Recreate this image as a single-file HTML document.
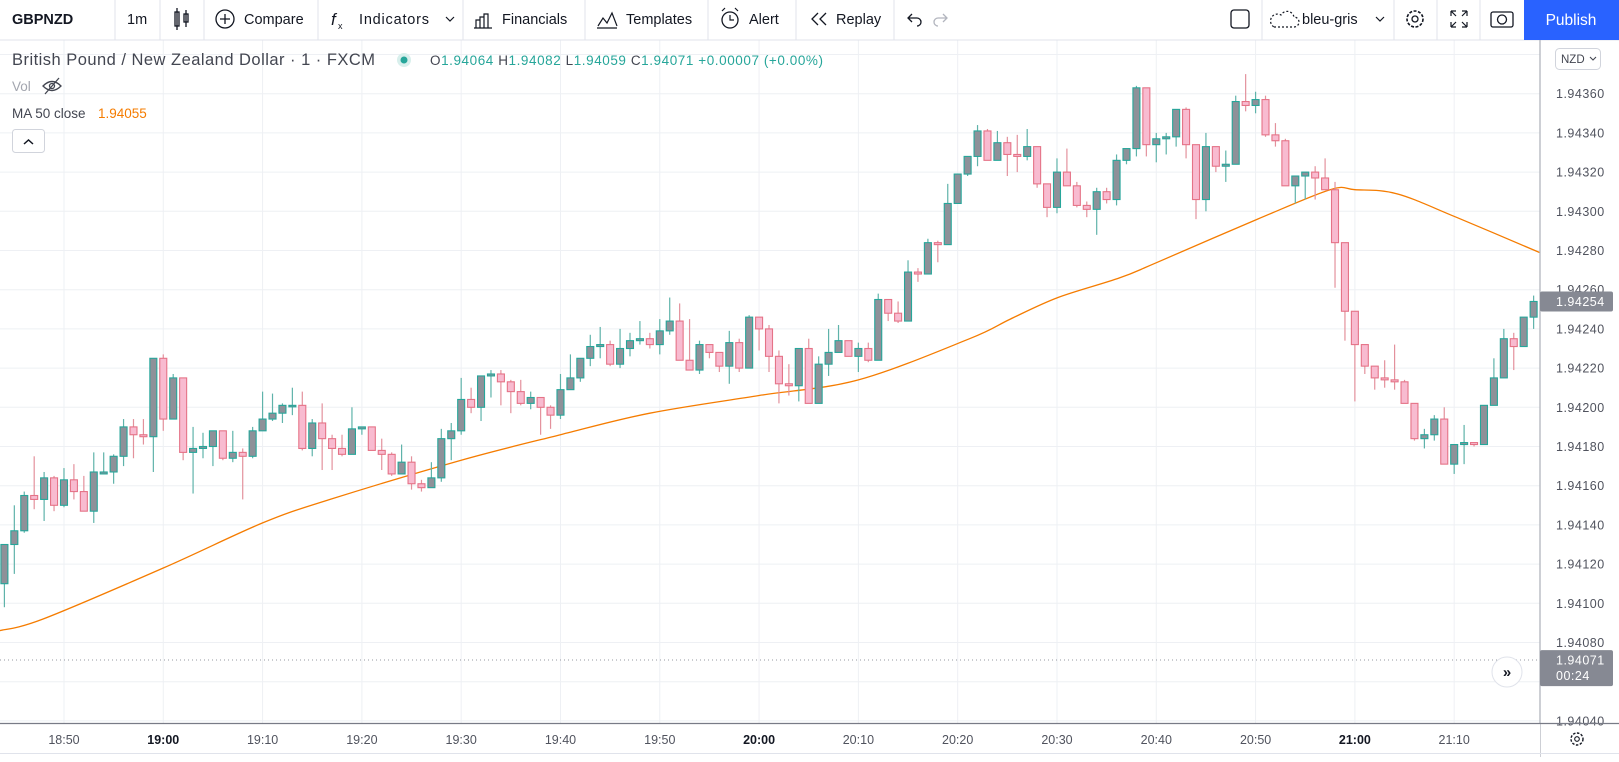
<!DOCTYPE html>
<html><head><meta charset="utf-8"><title>GBPNZD chart</title>
<style>
html,body{margin:0;padding:0;background:#fff;}
body{width:1619px;height:757px;overflow:hidden;font-family:"Liberation Sans",sans-serif;}
svg text{font-family:"Liberation Sans",sans-serif;}
</style></head>
<body>
<svg id="chart" width="1619" height="757" viewBox="0 0 1619 757" xmlns="http://www.w3.org/2000/svg">
  <rect x="0" y="0" width="1619" height="757" fill="#ffffff"/>
  <g id="grid"></g>
  <g id="ma"></g>
  <g id="candles"></g>
  <line x1="0" x2="1540" y1="660" y2="660" stroke="#9598a1" stroke-width="1" stroke-dasharray="1,3"/>

  <!-- toolbar -->
  <g>
    <rect x="0" y="0" width="1619" height="40" fill="#fff"/>
    <line x1="0" x2="1619" y1="40" y2="40" stroke="#e0e3eb"/>
    <g stroke="#e0e3eb">
      <line x1="115" x2="115" y1="0" y2="40"/><line x1="160" x2="160" y1="0" y2="40"/><line x1="204" x2="204" y1="0" y2="40"/>
      <line x1="318" x2="318" y1="0" y2="40"/><line x1="463" x2="463" y1="0" y2="40"/><line x1="585" x2="585" y1="0" y2="40"/>
      <line x1="708" x2="708" y1="0" y2="40"/><line x1="796" x2="796" y1="0" y2="40"/><line x1="894" x2="894" y1="0" y2="40"/>
      <line x1="1262" x2="1262" y1="0" y2="40"/><line x1="1394" x2="1394" y1="0" y2="40"/><line x1="1437" x2="1437" y1="0" y2="40"/><line x1="1480" x2="1480" y1="0" y2="40"/>
    </g>
    <text x="12" y="24" font-size="14.5" font-weight="bold" fill="#131722">GBPNZD</text>
    <text x="127" y="24" font-size="14.5" fill="#131722">1m</text>
    <g stroke="#131722" fill="none" stroke-width="1.3">
      <rect x="175" y="12" width="4" height="14"/><line x1="177" x2="177" y1="8" y2="30"/>
      <rect x="184" y="14" width="4" height="8"/><line x1="186" x2="186" y1="10" y2="27"/>
    </g>
    <g>
      <circle cx="225" cy="19" r="9" fill="none" stroke="#131722" stroke-width="1.3"/>
      <path d="M220 19h10M225 14v10" stroke="#131722" stroke-width="1.3"/>
      <text x="244" y="24" font-size="14.5" fill="#131722">Compare</text>
    </g>
    <g>
      <text x="331" y="25" font-size="17" font-style="italic" fill="#131722">f</text>
      <text x="338" y="29" font-size="9" fill="#131722">x</text>
      <text x="359" y="24" font-size="14.5" fill="#131722" textLength="70">Indicators</text>
      <path d="M446 17l4 4 4-4" fill="none" stroke="#131722" stroke-width="1.2"/>
    </g>
    <g>
      <path d="M474 28h18M476 28v-8h4v8M480 28v-11h4v11M484 28v-14h4v14" fill="none" stroke="#131722" stroke-width="1.2"/>
      <text x="502" y="24" font-size="14.5" fill="#131722">Financials</text>
    </g>
    <g>
      <path d="M597 28h20M598 26l5-8 4 5 5-10 5 13" fill="none" stroke="#131722" stroke-width="1.2"/>
      <text x="626" y="24" font-size="14.5" fill="#131722">Templates</text>
    </g>
    <g>
      <circle cx="730" cy="20" r="8" fill="none" stroke="#131722" stroke-width="1.3"/>
      <path d="M722 11l3-3M738 11l-3-3M730 15v5h4" fill="none" stroke="#131722" stroke-width="1.2"/>
      <text x="749" y="24" font-size="14.5" fill="#131722">Alert</text>
    </g>
    <g>
      <path d="M818 13l-6 6 6 6M826 13l-6 6 6 6" fill="none" stroke="#131722" stroke-width="1.3"/>
      <text x="836" y="24" font-size="14.5" fill="#131722">Replay</text>
    </g>
    <path d="M912 14l-4 4 4 4M908 18h9a4 4 0 0 1 0 8" fill="none" stroke="#131722" stroke-width="1.3"/>
    <path d="M943 14l4 4-4 4M947 18h-9a4 4 0 0 0 0 8" fill="none" stroke="#b2b5be" stroke-width="1.3"/>
    <rect x="1231" y="10" width="18" height="18" rx="3" fill="none" stroke="#131722" stroke-width="1.3"/>
    <g>
      <path d="M1274 27h20a5 5 0 0 0 0-10a7 7 0 0 0-13-2a6 6 0 0 0-7 12z" fill="none" stroke="#131722" stroke-width="1.2" stroke-dasharray="2,2"/>
      <text x="1302" y="24" font-size="14.5" fill="#131722">bleu-gris</text>
      <path d="M1376 17l4 4 4-4" fill="none" stroke="#131722" stroke-width="1.2"/>
    </g>
    <g>
      <circle cx="1415" cy="19" r="8" fill="none" stroke="#131722" stroke-width="1.6" stroke-dasharray="3,1.5"/>
      <circle cx="1415" cy="19" r="3" fill="none" stroke="#131722" stroke-width="1.3"/>
    </g>
    <path d="M1451 11h5M1451 11v5M1451 11l5 5M1467 11h-5M1467 11v5M1467 11l-5 5M1451 27h5M1451 27v-5M1451 27l5-5M1467 27h-5M1467 27v-5M1467 27l-5-5" fill="none" stroke="#131722" stroke-width="1.2"/>
    <g>
      <rect x="1491" y="12" width="22" height="15" rx="2" fill="none" stroke="#131722" stroke-width="1.3"/>
      <circle cx="1502" cy="19.5" r="4.5" fill="none" stroke="#131722" stroke-width="1.3"/>
    </g>
    <g>
      <rect x="1524" y="0" width="95" height="40" fill="#2962ff"/>
      <text x="1571" y="25" font-size="15.5" fill="#fff" text-anchor="middle">Publish</text>
    </g>
  </g>

  <!-- legend -->
  <g>
    <text x="12" y="65" font-size="16.5" fill="#434651" textLength="363" lengthAdjust="spacing">British Pound / New Zealand Dollar · 1 · FXCM</text>
    <circle cx="404" cy="60" r="7" fill="#d8efec"/>
    <circle cx="404" cy="60" r="3.5" fill="#26a69a"/>
    <text x="430" y="65" font-size="13.5" fill="#26a69a" textLength="393" lengthAdjust="spacing"><tspan fill="#434651">O</tspan>1.94064 <tspan fill="#434651">H</tspan>1.94082 <tspan fill="#434651">L</tspan>1.94059 <tspan fill="#434651">C</tspan>1.94071 +0.00007 (+0.00%)</text>
    <text x="12" y="91" font-size="13.5" fill="#a3a6af">Vol</text>
    <g stroke="#434651" fill="none" stroke-width="1.3">
      <path d="M43 86q9-9 18 0q-9 9-18 0z"/><circle cx="52" cy="86" r="2.5"/><line x1="45" y1="94" x2="59" y2="78"/>
    </g>
    <text x="12" y="118" font-size="13.5" fill="#434651">MA 50 close</text>
    <text x="98" y="118" font-size="13.5" fill="#f57c00">1.94055</text>
    <g>
      <rect x="12.5" y="129.5" width="32" height="23" rx="3" fill="#fff" stroke="#d1d4dc"/>
      <path d="M24 144l4.5-4 4.5 4" fill="none" stroke="#131722" stroke-width="1.5"/>
    </g>
  </g>

  <!-- price axis -->
  <g id="paxis">
    <rect x="1540" y="41" width="79" height="682" fill="#fff"/>
    <line x1="1540" x2="1540" y1="40" y2="757" stroke="#b2b5be" stroke-width="1.3"/>
    <g>
      <rect x="1555.5" y="48.5" width="45" height="21" rx="4" fill="#fff" stroke="#d1d4dc"/>
      <text x="1561" y="63" font-size="11.5" fill="#434651">NZD</text>
      <path d="M1590 57l3 3 3-3" fill="none" stroke="#434651" stroke-width="1.1"/>
    </g>
  </g>
  <!-- time axis -->
  <g id="taxis">
    <rect x="0" y="723" width="1540" height="34" fill="#fff"/>
    <line x1="0" x2="1619" y1="723.5" y2="723.5" stroke="#787b86" stroke-width="1.3"/>
    <line x1="0" x2="1619" y1="753.5" y2="753.5" stroke="#e0e3eb"/>
  </g>
  <g>
    <circle cx="1507" cy="672" r="15" fill="#fff" stroke="#e0e3eb"/>
    <text x="1507" y="677" font-size="15" font-weight="bold" fill="#131722" text-anchor="middle">»</text>
  </g>
  <g>
    <circle cx="1577" cy="739" r="6" fill="none" stroke="#131722" stroke-width="1.4" stroke-dasharray="2.5,1.5"/>
    <circle cx="1577" cy="739" r="2.3" fill="none" stroke="#131722" stroke-width="1.1"/>
  </g>
</svg>
<script>
var opens=[194110,194130,194137,194155,194153,194164,194150,194163,194157,194147,194166,194167,194175,194190,194186,194185,194225,194194,194215,194177,194179,194180,194188,194174,194177,194175,194188,194194,194197,194201,194201,194179,194192,194184,194179,194176,194189,194190,194178,194176,194166,194172,194161,194159,194164,194184,194188,194204,194200,194216,194217,194213,194208,194202,194205,194200,194196,194209,194215,194225,194231,194232,194222,194230,194234,194235,194232,194239,194244,194224,194219,194232,194228,194221,194233,194220,194246,194240,194226,194212,194211,194230,194202,194222,194228,194234,194226,194230,194224,194255,194248,194244,194269,194268,194284,194283,194304,194319,194328,194341,194326,194335,194329,194328,194333,194314,194302,194320,194313,194303,194301,194310,194306,194326,194332,194363,194334,194337,194338,194352,194334,194306,194333,194323,194324,194356,194354,194357,194339,194336,194313,194318,194320,194317,194311,194284,194249,194232,194221,194215,194214,194213,194202,194184,194186,194194,194171,194181,194182,194181,194201,194215,194235,194231,194246];
var highs=[194130,194150,194157,194175,194167,194165,194169,194171,194165,194177,194177,194176,194194,194194,194194,194225,194227,194217,194215,194190,194187,194188,194188,194188,194179,194190,194208,194207,194202,194210,194208,194194,194202,194186,194186,194200,194190,194190,194184,194177,194181,194175,194163,194172,194189,194192,194215,194210,194216,194219,194219,194214,194214,194208,194205,194201,194217,194227,194225,194237,194241,194234,194240,194238,194244,194238,194245,194256,194253,194245,194234,194232,194228,194239,194235,194247,194246,194242,194229,194222,194230,194235,194226,194240,194242,194234,194233,194233,194258,194255,194254,194275,194271,194286,194285,194314,194319,194328,194344,194342,194341,194338,194339,194342,194333,194314,194327,194332,194315,194305,194312,194312,194329,194332,194364,194363,194340,194340,194352,194353,194334,194340,194333,194331,194359,194370,194361,194359,194345,194337,194318,194320,194323,194327,194315,194284,194249,194232,194221,194224,194232,194214,194202,194189,194196,194200,194181,194191,194182,194201,194225,194240,194238,194246,194257];
var lows=[194098,194115,194136,194148,194142,194147,194149,194153,194147,194141,194166,194161,194170,194174,194181,194167,194188,194194,194173,194156,194174,194170,194173,194172,194153,194174,194188,194193,194192,194196,194178,194175,194168,194168,194175,194176,194186,194178,194168,194165,194166,194158,194157,194159,194162,194173,194186,194197,194193,194205,194201,194197,194201,194199,194186,194189,194194,194209,194213,194221,194225,194221,194220,194226,194232,194230,194227,194237,194224,194219,194217,194225,194218,194212,194218,194220,194229,194218,194202,194206,194203,194202,194202,194216,194228,194226,194218,194223,194224,194244,194243,194244,194264,194268,194274,194283,194304,194318,194323,194326,194326,194318,194320,194326,194312,194297,194299,194313,194302,194297,194288,194304,194303,194324,194328,194328,194325,194329,194333,194327,194296,194300,194320,194315,194324,194351,194350,194338,194333,194313,194304,194306,194306,194311,194261,194234,194203,194217,194209,194210,194209,194202,194183,194179,194183,194171,194166,194171,194180,194181,194201,194215,194219,194231,194240];
var closes=[194130,194137,194155,194153,194164,194150,194163,194157,194147,194167,194167,194175,194190,194186,194185,194225,194194,194215,194177,194179,194180,194188,194174,194177,194175,194188,194194,194197,194201,194201,194179,194192,194184,194179,194176,194189,194190,194178,194176,194166,194172,194161,194159,194164,194184,194188,194204,194200,194216,194217,194213,194208,194202,194205,194200,194196,194209,194215,194225,194231,194232,194222,194230,194234,194235,194232,194239,194244,194224,194219,194232,194228,194221,194233,194220,194246,194240,194226,194212,194211,194230,194202,194222,194228,194234,194226,194230,194224,194255,194248,194244,194269,194268,194284,194283,194304,194319,194328,194341,194326,194335,194329,194328,194333,194314,194302,194320,194313,194303,194301,194310,194306,194326,194332,194363,194334,194337,194338,194352,194334,194306,194333,194323,194324,194356,194354,194357,194339,194336,194313,194318,194320,194317,194311,194284,194249,194232,194221,194215,194214,194213,194202,194184,194186,194194,194171,194181,194182,194181,194201,194215,194235,194231,194246,194254];
var maIndex=[-0.5,3.9,16,26,32.8,46,56,65,76,86,97.2,101.3,106.1,112.3,116.1,126.2,133.5,136,140.2,146.2,154.6];
var maValues=[194086,194092,194118,194141,194153,194173,194186,194197,194206,194214,194235,194245,194256,194266,194274,194296,194311,194311,194309,194297,194279];
var priceTicks=[194380,194360,194340,194320,194300,194280,194260,194240,194220,194200,194180,194160,194140,194120,194100,194080,194060,194040];
var timeLabels=["18:50","19:00","19:10","19:20","19:30","19:40","19:50","20:00","20:10","20:20","20:30","20:40","20:50","21:00","21:10"];
var timeLabelIndex=[6,16,26,36,46,56,66,76,86,96,106,116,126,136,146];
var lastPrice=194254, livePrice=194071;

var NS="http://www.w3.org/2000/svg";
function xScale(i){return 4.4+9.93*i;}
function yScale(v){return 407.3-(v-194200)*1.96;}
function mk(tag,attrs,parent){var e=document.createElementNS(NS,tag);for(var k in attrs)e.setAttribute(k,attrs[k]);parent.appendChild(e);return e;}
function fmt(v){return (v/100000).toFixed(5);}

var grid=document.getElementById('grid');
priceTicks.forEach(function(p){
  var y=yScale(p); if(y<42||y>722)return;
  var l=mk('line',{x1:0,x2:1540,y1:y,y2:y,stroke:'#eef0f4','stroke-width':1},grid);
  
  
});
timeLabelIndex.forEach(function(i){
  var x=xScale(i);
  var l=mk('line',{x1:x,x2:x,y1:40,y2:723,stroke:'#eef0f4','stroke-width':1},grid);
  
  
});

var ma=document.getElementById('ma');
var P=maIndex.map(function(i,j){return [xScale(i),yScale(maValues[j])];});
var d='M'+P[0][0].toFixed(1)+','+P[0][1].toFixed(1);
for(var j=0;j<P.length-1;j++){
  var p0=P[Math.max(j-1,0)],p1=P[j],p2=P[j+1],p3=P[Math.min(j+2,P.length-1)];
  var c1x=p1[0]+(p2[0]-p0[0])/6,c1y=p1[1]+(p2[1]-p0[1])/6;
  var c2x=p2[0]-(p3[0]-p1[0])/6,c2y=p2[1]-(p3[1]-p1[1])/6;
  d+=' C'+c1x.toFixed(1)+','+c1y.toFixed(1)+' '+c2x.toFixed(1)+','+c2y.toFixed(1)+' '+p2[0].toFixed(1)+','+p2[1].toFixed(1);
}
var pl=mk('path',{d:d,fill:'none',stroke:'#f57c00','stroke-width':1.3},ma);



var cg=document.getElementById('candles');
for(var i=0;i<opens.length;i++){
  var o=opens[i],h=highs[i],lo=lows[i],c=closes[i];
  var up=c>=o, x=xScale(i);
  var g=mk('g',{},cg);
  
  
  mk('line',{x1:x,x2:x,y1:yScale(h),y2:yScale(lo),stroke:up?'#5fb3aa':'#e3919c','stroke-width':1.2},g);
  var t=yScale(Math.max(o,c)),b=yScale(Math.min(o,c));
  var hh=Math.max(b-t,1.5);
  mk('rect',{x:x-3.5,y:t,width:7,height:hh,fill:up?'#8e9199':'#f8bbd0',stroke:up?'#26a69a':'#e57387','stroke-width':1.1},g);
}

var pa=document.getElementById('paxis');
priceTicks.forEach(function(p){
  var y=yScale(p); if(y<75||y>722)return;
  var t=mk('text',{x:1556,y:y+4.5,'font-size':12.5,fill:'#50535e','letter-spacing':'0.5'},pa);
  t.textContent=fmt(p);
  
  
});
var ly=yScale(lastPrice);
var lb=mk('rect',{x:1540,y:ly-10,width:73,height:20,rx:2,fill:'#868993'},pa);


var lt=mk('text',{x:1556,y:ly+4.5,'font-size':12.5,fill:'#fff','letter-spacing':'0.5'},pa);
lt.textContent=fmt(lastPrice);


var vy=yScale(livePrice);
var vb=mk('rect',{x:1540,y:vy-10,width:73,height:36,rx:2,fill:'#868993'},pa);


var vt=mk('text',{x:1556,y:vy+4.5,'font-size':12.5,fill:'#fff','letter-spacing':'0.5'},pa);
vt.textContent=fmt(livePrice);


var ct=mk('text',{x:1556,y:vy+20,'font-size':12.5,fill:'#fff','letter-spacing':'0.5'},pa);
ct.textContent='00:24';



var ta=document.getElementById('taxis');
timeLabels.forEach(function(s,j){
  var bold=/:00$/.test(s);
  var t=mk('text',{x:xScale(timeLabelIndex[j]),y:744,'font-size':12.5,fill:bold?'#131722':'#50535e','font-weight':bold?'bold':'normal','text-anchor':'middle'},ta);
  t.textContent=s;
  
  
});
</script>
</body></html>
